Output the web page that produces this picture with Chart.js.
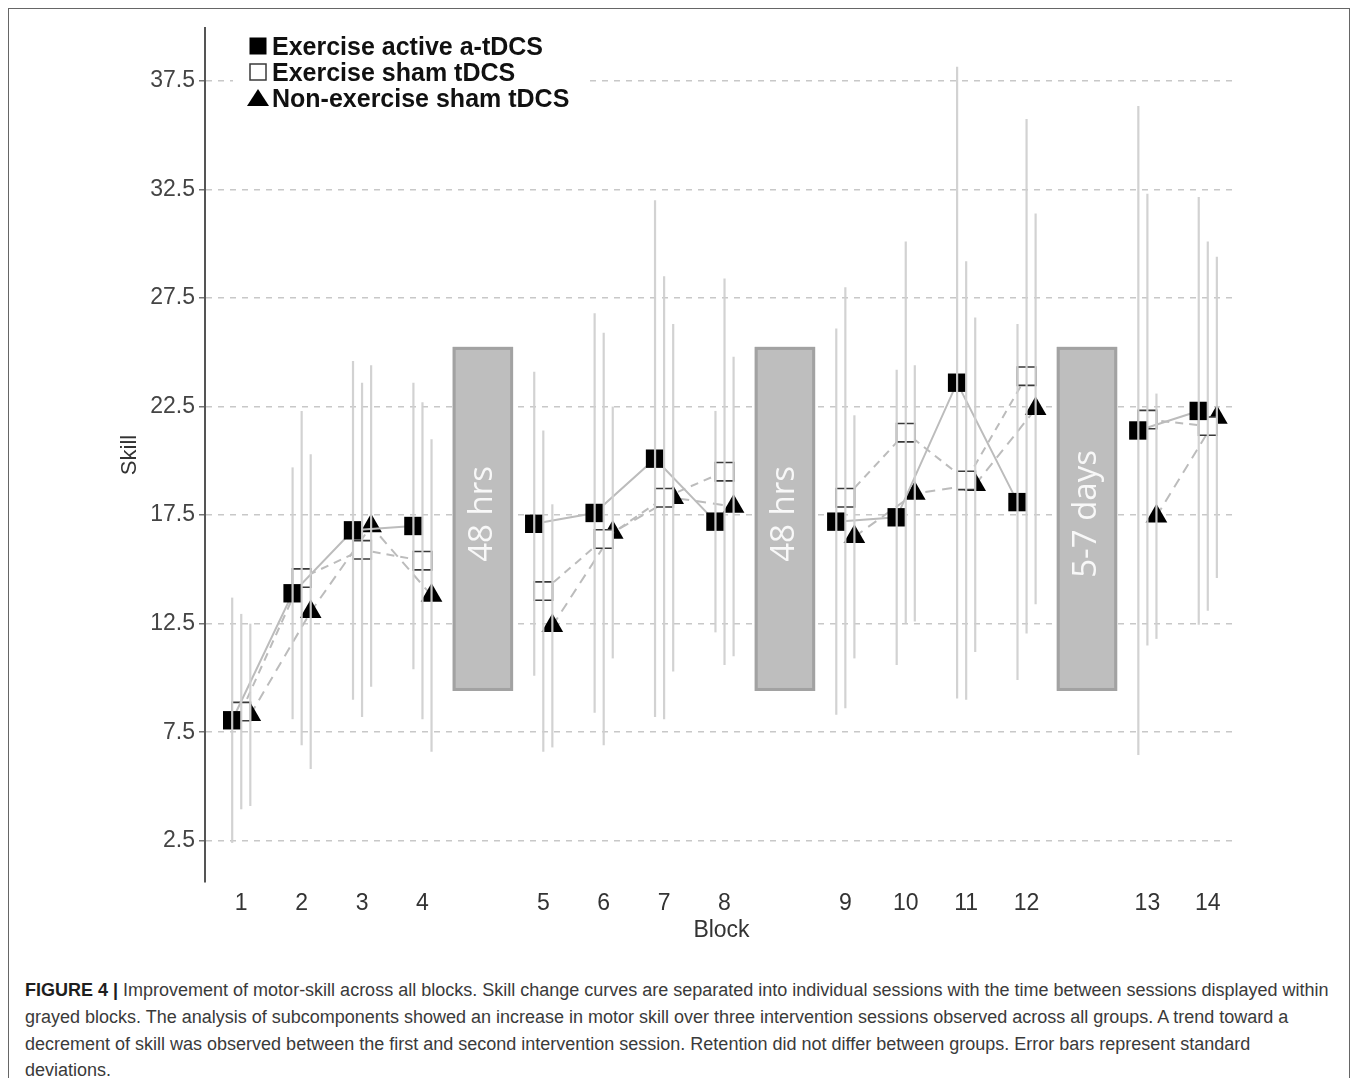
<!DOCTYPE html>
<html>
<head>
<meta charset="utf-8">
<title>Figure 4 - motor skill across blocks</title>
<script src="https://cdn.jsdelivr.net/npm/chart.js@4.4.0/dist/chart.umd.min.js"></script>
<style>
  body { margin: 0; background: #fff; width: 1358px; height: 1078px; overflow: hidden; position: relative;
         font-family: "Liberation Sans", Arial, sans-serif; }
  #frame { position: absolute; left: 8px; top: 8px; width: 1342px; height: 1120px; border: 1px solid #666; box-sizing: border-box; }
  #wrap { position: absolute; left: 0; top: 0; width: 1358px; height: 960px; }
  #caption { position: absolute; left: 25px; top: 977px; font-size: 18px; line-height: 26.8px; color: #3a3a3a; white-space: nowrap; }
  #caption b { color: #1e1e1e; }
</style>
</head>
<body>
<div id="frame"></div>
<div id="wrap"><canvas id="skillChart" width="1358" height="960"></canvas></div>
<div id="caption">
  <div><b>FIGURE 4 |</b> Improvement of motor-skill across all blocks. Skill change curves are separated into individual sessions with the time between sessions displayed within</div>
  <div>grayed blocks. The analysis of subcomponents showed an increase in motor skill over three intervention sessions observed across all groups. A trend toward a</div>
  <div>decrement of skill was observed between the first and second intervention session. Retention did not differ between groups. Error bars represent standard</div>
  <div>deviations.</div>
</div>
<script>
// Blocks and the session each block belongs to
const blocks   = [1, 2, 3, 4, 5, 6, 7, 8, 9, 10, 11, 12, 13, 14];
const sessions = [1, 1, 1, 1, 2, 2, 2, 2, 3, 3, 3, 3, 4, 4];

// Group means and standard deviations
const activeMean = [8.05, 13.9, 16.8, 17.0, 17.1, 17.6, 20.1, 17.2, 17.2, 17.4, 23.6, 18.1, 21.4, 22.3];
const activeSD   = [5.65, 5.8, 7.8, 6.6, 7.0, 9.2, 11.9, 5.1, 8.9, 6.8, 14.55, 8.2, 14.95, 9.85];
const shamMean   = [8.45, 14.6, 15.9, 15.4, 14.0, 16.4, 18.3, 19.5, 18.3, 21.3, 19.1, 23.9, 21.9, 21.6];
const shamSD     = [4.5, 7.7, 7.7, 7.3, 7.4, 9.5, 10.2, 8.9, 9.7, 8.8, 10.1, 11.85, 10.4, 8.5];
const nonExMean  = [8.3, 13.05, 17.0, 13.8, 12.4, 16.7, 18.3, 17.9, 16.5, 18.5, 18.9, 22.4, 17.45, 22.0];
const nonExSD    = [4.2, 7.25, 7.4, 7.2, 5.6, 5.8, 8.0, 6.9, 5.6, 5.9, 7.7, 9.0, 5.65, 7.4];

// Time between sessions, shown in the grey blocks
const breakLabels = ['48 hrs', '48 hrs', '5-7 days'];
const breakSkillRange = [9.4, 25.25];

const yTicks = [2.5, 7.5, 12.5, 17.5, 22.5, 27.5, 32.5, 37.5];

// x position of each block: one empty slot between sessions
const positions = blocks.map((b, i) => b + sessions[i] - 1);
const breakPositions = [];
for (let i = 1; i < blocks.length; i++) {
    if (sessions[i] !== sessions[i - 1]) breakPositions.push(positions[i - 1] + 1);
}

const FONT = '"Liberation Sans", Arial, sans-serif';
const dodge = [-0.15, 0, 0.15];

const series = [
    { name: 'Exercise active a-tDCS', mean: activeMean, sd: activeSD, marker: 'rect',
      fill: '#000000', stroke: '#000000', radius: 13, dash: [] },
    { name: 'Exercise sham tDCS', mean: shamMean, sd: shamSD, marker: 'rect',
      fill: '#ffffff', stroke: '#3a3a3a', radius: 13, dash: [8, 6] },
    { name: 'Non-exercise sham tDCS', mean: nonExMean, sd: nonExSD, marker: 'triangle',
      fill: '#000000', stroke: '#000000', radius: 12.5, dash: [10, 7] }
];

// points per series, with a null point between sessions so the line breaks
function buildPoints(mean, offset) {
    const pts = [];
    mean.forEach((v, i) => {
        if (i > 0 && sessions[i] !== sessions[i - 1]) pts.push({ x: positions[i] - 1, y: null });
        pts.push({ x: positions[i] + offset, y: v });
    });
    return pts;
}

// Grey rectangles with the rest interval
const breaksPlugin = {
    id: 'breaks',
    beforeDatasetsDraw(chart) {
        const { ctx, scales: { x, y } } = chart;
        breakPositions.forEach((p, i) => {
            const x1 = x.getPixelForValue(p - 0.5), x2 = x.getPixelForValue(p + 0.5);
            const y1 = y.getPixelForValue(breakSkillRange[1]), y2 = y.getPixelForValue(breakSkillRange[0]);
            ctx.save();
            ctx.fillStyle = '#bebebe';
            ctx.fillRect(x1, y1, x2 - x1, y2 - y1);
            ctx.strokeStyle = '#a2a2a2';
            ctx.lineWidth = 3;
            ctx.strokeRect(x1 + 1.5, y1 + 1.5, x2 - x1 - 3, y2 - y1 - 3);
            ctx.translate((x1 + x2) / 2, (y1 + y2) / 2 - 5);
            ctx.rotate(-Math.PI / 2);
            ctx.fillStyle = '#f8f8f8';
            ctx.font = '33px "Open Sans", sans-serif';
            ctx.textAlign = 'center';
            ctx.textBaseline = 'middle';
            ctx.fillText(breakLabels[i], 0, 0);
            ctx.restore();
        });
    }
};

// Standard deviation bars, drawn over the markers like in the original
const errorBarsPlugin = {
    id: 'errorBars',
    afterDatasetsDraw(chart) {
        const { ctx, scales: { x, y } } = chart;
        ctx.save();
        ctx.strokeStyle = 'rgba(208,208,208,0.95)';
        ctx.lineWidth = 2.2;
        series.forEach((s, k) => {
            s.mean.forEach((m, i) => {
                const px = x.getPixelForValue(positions[i] + dodge[k]);
                ctx.beginPath();
                ctx.moveTo(px, y.getPixelForValue(m + s.sd[i]));
                ctx.lineTo(px, y.getPixelForValue(m - s.sd[i]));
                ctx.stroke();
            });
        });
        ctx.restore();
    }
};

// Legend in the top left corner of the plot
const legendPlugin = {
    id: 'cornerLegend',
    afterDraw(chart) {
        const ctx = chart.ctx;
        const left = chart.chartArea.left;
        const top = chart.chartArea.top;
        ctx.save();
        ctx.fillStyle = '#ffffff';
        ctx.fillRect(left + 28, top + 4, 355, 80);
        series.forEach((s, k) => {
            const cx = left + 53, cy = top + 18 + k * 26;
            ctx.fillStyle = s.fill;
            ctx.strokeStyle = s.stroke;
            ctx.lineWidth = 1.5;
            if (s.marker === 'rect') {
                ctx.fillRect(cx - 8.5, cy - 8.5, 17, 17);
                if (s.fill === '#ffffff') ctx.strokeRect(cx - 8, cy - 8, 16, 16);
            } else {
                ctx.beginPath();
                ctx.moveTo(cx, cy - 9);
                ctx.lineTo(cx + 11, cy + 8);
                ctx.lineTo(cx - 11, cy + 8);
                ctx.closePath();
                ctx.fill();
            }
            ctx.fillStyle = '#111111';
            ctx.font = 'bold 25px ' + FONT;
            ctx.textBaseline = 'alphabetic';
            ctx.fillText(s.name, left + 67, cy + 9);
        });
        ctx.restore();
    }
};

new Chart(document.getElementById('skillChart').getContext('2d'), {
    type: 'line',
    data: {
        datasets: series.map((s, k) => ({
            label: s.name,
            data: buildPoints(s.mean, dodge[k]),
            borderColor: '#bcbcbc',
            borderWidth: 2,
            borderDash: s.dash,
            tension: 0,
            spanGaps: false,
            pointStyle: s.marker,
            pointRadius: s.radius,
            pointHoverRadius: s.radius,
            pointBackgroundColor: s.fill,
            pointBorderColor: s.stroke,
            pointBorderWidth: s.fill === '#ffffff' ? 1.6 : 0
        }))
    },
    options: {
        responsive: false,
        animation: false,
        events: [],
        layout: { padding: { left: 0, top: 28, right: 120, bottom: 0 } },
        plugins: {
            legend: { display: false },
            tooltip: { enabled: false }
        },
        scales: {
            x: {
                type: 'linear',
                min: 0.40,
                max: 17.50,
                afterBuildTicks: scale => { scale.ticks = positions.map(v => ({ value: v })); },
                afterFit: scale => { scale.height = 78; },
                ticks: {
                    autoSkip: false,
                    maxRotation: 0,
                    padding: 8,
                    color: '#333333',
                    font: { family: FONT, size: 23 },
                    callback: value => {
                        const i = positions.indexOf(value);
                        return i >= 0 ? String(blocks[i]) : '';
                    }
                },
                grid: { display: false, drawTicks: false },
                border: { display: false },
                title: {
                    display: true,
                    text: 'Block',
                    color: '#333333',
                    font: { family: FONT, size: 23 },
                    padding: { top: 0, bottom: 16 }
                }
            },
            y: {
                min: 0.60,
                max: 39.94,
                afterBuildTicks: scale => { scale.ticks = yTicks.map(v => ({ value: v })); },
                afterFit: scale => { scale.width = 205; },
                ticks: {
                    padding: 4,
                    color: '#444444',
                    font: { family: FONT, size: 23 },
                    callback: value => value.toFixed(1)
                },
                grid: {
                    color: '#c8c8c8',
                    lineWidth: 1.5,
                    tickLength: 6,
                    tickColor: '#777777',
                    tickWidth: 1.5,
                    tickBorderDash: []
                },
                border: { display: true, color: '#555555', width: 2, dash: [6, 6] },
                title: {
                    display: true,
                    text: 'Skill',
                    color: '#333333',
                    font: { family: FONT, size: 22 },
                    padding: { top: 117, bottom: 0 }
                }
            }
        }
    },
    plugins: [breaksPlugin, errorBarsPlugin, legendPlugin]
});
</script>
</body>
</html>
